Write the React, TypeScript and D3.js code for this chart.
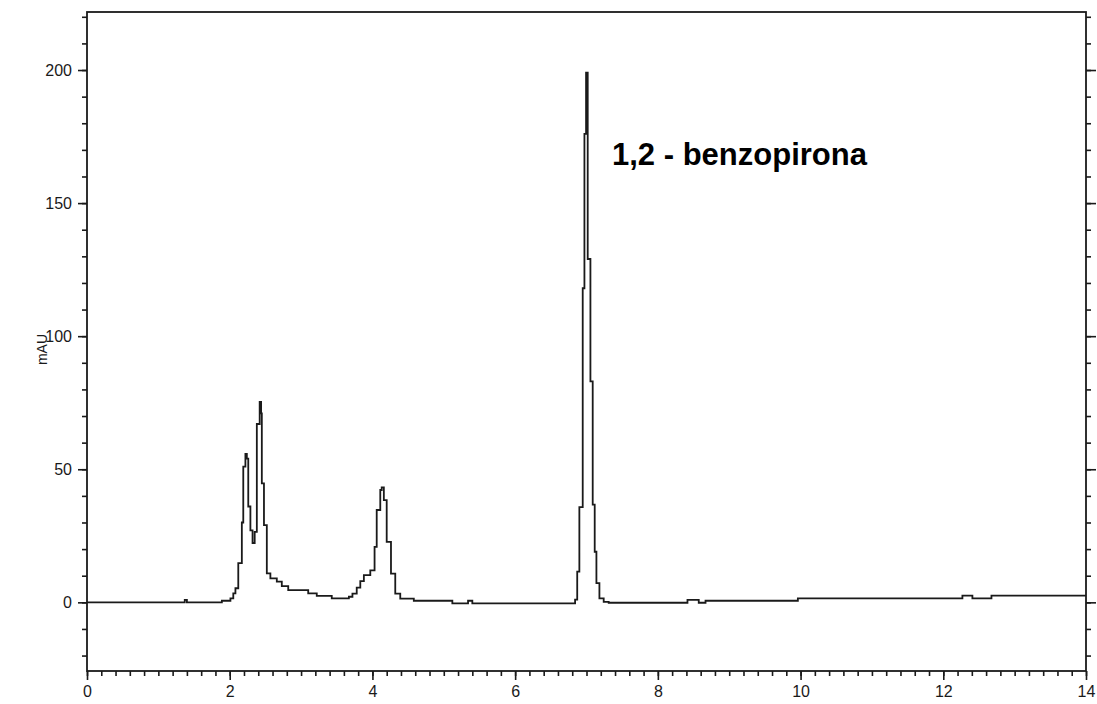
import React, { useEffect, useRef } from "react";
import * as d3 from "d3";

// retention time (min) at which the detector trace steps to a new level
const times = [
  0, 1.37, 1.4, 1.89, 2.01, 2.05, 2.08, 2.12, 2.17, 2.19, 2.22, 2.24, 2.26,
  2.29, 2.32, 2.35, 2.38, 2.42, 2.44, 2.45, 2.48, 2.52, 2.57, 2.66, 2.73, 2.82,
  3.1, 3.22, 3.43, 3.67, 3.72, 3.78, 3.83, 3.88, 3.97, 4.03, 4.06, 4.11, 4.13,
  4.16, 4.2, 4.26, 4.32, 4.39, 4.58, 5.12, 5.34, 5.4, 6.84, 6.87, 6.9, 6.947,
  6.971, 6.994, 7.017, 7.055, 7.087, 7.115, 7.139, 7.181, 7.241, 7.311, 8.415,
  8.573, 8.668, 9.962, 12.268, 12.408, 12.675, 14,
];
// absorbance (mAU) held from each time on
const absorbance = [
  0, 0.9, 0, 0.6, 1.5, 3.4, 5.3, 14.7, 30, 51, 55.8, 54, 36,
  27, 22.3, 26.5, 67, 75.3, 71, 44.7, 29, 10.9, 9, 7.8, 6.1, 4.6,
  3.4, 2.4, 1.5, 2.1, 3.3, 5.5, 8, 10.2, 12, 20.8, 34.7, 42.2, 43.2,
  38.4, 22.7, 10.8, 3.3, 1.4, 0.6, -0.4, 0.6, -0.4, 1.0, 11.5, 35.8, 118,
  176, 199, 129, 83, 36.7, 19, 7.2, 1.5, 0.2, -0.15, 0.9,
  -0.15, 0.6, 1.5, 2.5, 1.5, 2.5, 2.5,
];

const xTickLabels = [0, 2, 4, 6, 8, 10, 12, 14];
const yTickLabels = [0, 50, 100, 150, 200];
const yTitle = "mAU";
const peakName = "1,2 - benzopirona";

const App = () => {
  const chart = useRef<SVGSVGElement>(null);

  useEffect(() => {
    const svg = d3.select(chart.current);
    svg.selectAll("*").remove();

    const left = 87;
    const right = 1086;
    const top = 12;
    const bottom = 671;
    const font = "'Liberation Sans', Arial, sans-serif";
    const ink = "#1a1a1a";

    const x = d3.scaleLinear().domain([0, 14]).range([left, right]);
    const y = d3.scaleLinear().domain([-25.8, 221.8]).range([bottom, top]);

    const styleAxis = (g, size = "17px") => {
      g.select(".domain").remove();
      g.selectAll("line").attr("stroke", ink).attr("stroke-width", 1.6);
      g.selectAll("text")
        .attr("fill", ink)
        .style("font-family", font)
        .style("font-size", size);
    };

    // minor ticks
    svg
      .append("g")
      .attr("transform", `translate(0,${bottom})`)
      .call(
        d3.axisBottom(x).tickValues(d3.range(0, 14.01, 0.2)).tickSize(5).tickFormat(() => "")
      )
      .call(styleAxis);
    svg
      .append("g")
      .attr("transform", `translate(${left},0)`)
      .call(
        d3.axisLeft(y).tickValues(d3.range(-20, 221, 10)).tickSize(5).tickFormat(() => "")
      )
      .call(styleAxis);
    svg
      .append("g")
      .attr("transform", `translate(${right},0)`)
      .call(
        d3.axisRight(y).tickValues(d3.range(-20, 221, 10)).tickSize(5).tickFormat(() => "")
      )
      .call(styleAxis);

    // major ticks with labels
    svg
      .append("g")
      .attr("transform", `translate(0,${bottom})`)
      .call(d3.axisBottom(x).tickValues(xTickLabels).tickSize(9).tickPadding(6).tickFormat(d3.format("d")))
      .call(styleAxis, "16px");
    svg
      .append("g")
      .attr("transform", `translate(${left},0)`)
      .call(d3.axisLeft(y).tickValues(yTickLabels).tickSize(9).tickPadding(6).tickFormat(d3.format("d")))
      .call(styleAxis, "16px");
    svg
      .append("g")
      .attr("transform", `translate(${right},0)`)
      .call(d3.axisRight(y).tickValues(yTickLabels).tickSize(10).tickFormat(() => ""))
      .call(styleAxis);

    // frame
    svg
      .append("rect")
      .attr("x", left)
      .attr("y", top)
      .attr("width", right - left)
      .attr("height", bottom - top)
      .attr("fill", "none")
      .attr("stroke", ink)
      .attr("stroke-width", 1.8);

    // chromatogram trace
    const points = times.map((t, i) => [t, absorbance[i]]);
    const line = d3
      .line()
      .x((d) => x(d[0]))
      .y((d) => y(d[1]))
      .curve(d3.curveStepAfter);
    svg
      .append("path")
      .datum(points)
      .attr("d", line)
      .attr("fill", "none")
      .attr("stroke", ink)
      .attr("stroke-width", 1.8);

    svg
      .append("text")
      .attr("transform", `translate(47,${(top + bottom) / 2 + 8}) rotate(-90)`)
      .attr("text-anchor", "middle")
      .attr("fill", ink)
      .style("font-family", font)
      .style("font-size", "14px")
      .text(yTitle);

    svg
      .append("text")
      .attr("x", 612)
      .attr("y", 165)
      .attr("fill", "#000")
      .style("font-family", font)
      .style("font-weight", "bold")
      .style("font-size", "31px")
      .text(peakName);
  }, []);

  return (
    <div>
      <svg
        ref={chart}
        width={1097}
        height={704}
        style={{ position: "absolute", left: 0, top: 0, background: "#fff" }}
      ></svg>
    </div>
  );
};

export default App;
